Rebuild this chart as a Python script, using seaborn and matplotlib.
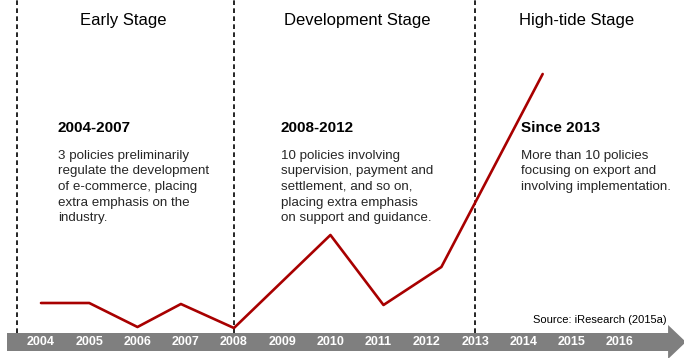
import matplotlib
matplotlib.use("Agg")
import matplotlib.pyplot as plt
from matplotlib.patches import Polygon, Rectangle
import pandas as pd
import seaborn as sns

# Policy momentum curve across the three stages
trend_years = [2004, 2005, 2006, 2006.9, 2008, 2010, 2011.1, 2012.3, 2014.4]
trend_values = [30, 30, 6, 29, 5, 98, 28, 66, 259]

axis_years = list(range(2004, 2017))
stage_bounds = [2003.5, 2008, 2013]
stage_titles = ["Early Stage", "Development Stage", "High-tide Stage"]
stage_title_x = [2005.7, 2010.55, 2015.1]

period_headings = ["2004-2007", "2008-2012", "Since 2013"]
period_x = [2004.35, 2008.97, 2013.95]
period_notes = [
    ["3 policies preliminarily",
     "regulate the development",
     "of e-commerce, placing",
     "extra emphasis on the",
     "industry."],
    ["10 policies involving",
     "supervision, payment and",
     "settlement, and so on,",
     "placing extra emphasis",
     "on support and guidance."],
    ["More than 10 policies",
     "focusing on export and",
     "involving implementation."],
]
source_note = "Source: iResearch (2015a)"

sns.set_style("white")
plt.rcParams["font.family"] = ["Liberation Sans", "DejaVu Sans"]

W, H, DPI = 684, 358, 100
fig = plt.figure(figsize=(W / DPI, H / DPI), dpi=DPI)
ax = fig.add_axes([0, 0, 1, 1])
ax.set_xlim(2003.15, 2017.33)
ax.set_ylim(-25, 333)
ax.axis("off")

# timeline arrow along the bottom
ax.add_patch(Rectangle((2003.295, -18), 2017.015 - 2003.295, 18,
                       facecolor="#7f7f7f", edgecolor="none", zorder=1))
ax.add_patch(Polygon([(2017.0, 8), (2017.0, -26), (2017.37, -9)],
                     closed=True, facecolor="#7f7f7f", edgecolor="none",
                     zorder=1, clip_on=False))
for yr in axis_years:
    ax.text(yr, -9, str(yr), ha="center", va="center", color="white",
            fontsize=9, fontweight="bold", zorder=3)

# stage separators
ax.vlines(stage_bounds, 0, 333, colors="black", linewidth=1.2,
          linestyles=(0, (2.8, 2.0)), zorder=2)

for x, t in zip(stage_title_x, stage_titles):
    ax.text(x, 307.5, t, ha="center", va="baseline", fontsize=12,
            color="black")

# policy curve
df = pd.DataFrame({"year": trend_years, "value": trend_values})
sns.lineplot(data=df, x="year", y="value", ax=ax, color="#a80000",
             linewidth=1.9, sort=False, zorder=4)
ax.set_xlim(2003.15, 2017.33)
ax.set_ylim(-25, 333)
ax.axis("off")

# period descriptions
line_step = 15.7
for x, head, notes in zip(period_x, period_headings, period_notes):
    ax.text(x, 201, head, ha="left", va="baseline", fontsize=11,
            fontweight="bold", color="black", zorder=5)
    for i, line in enumerate(notes):
        ax.text(x, 174.5 - i * line_step, line, ha="left", va="baseline",
                fontsize=9.6, color="#262626", zorder=5)

ax.text(2016.97, 13, source_note, ha="right", va="center", fontsize=8,
        color="black")

fig.savefig("out.png", dpi=DPI)
